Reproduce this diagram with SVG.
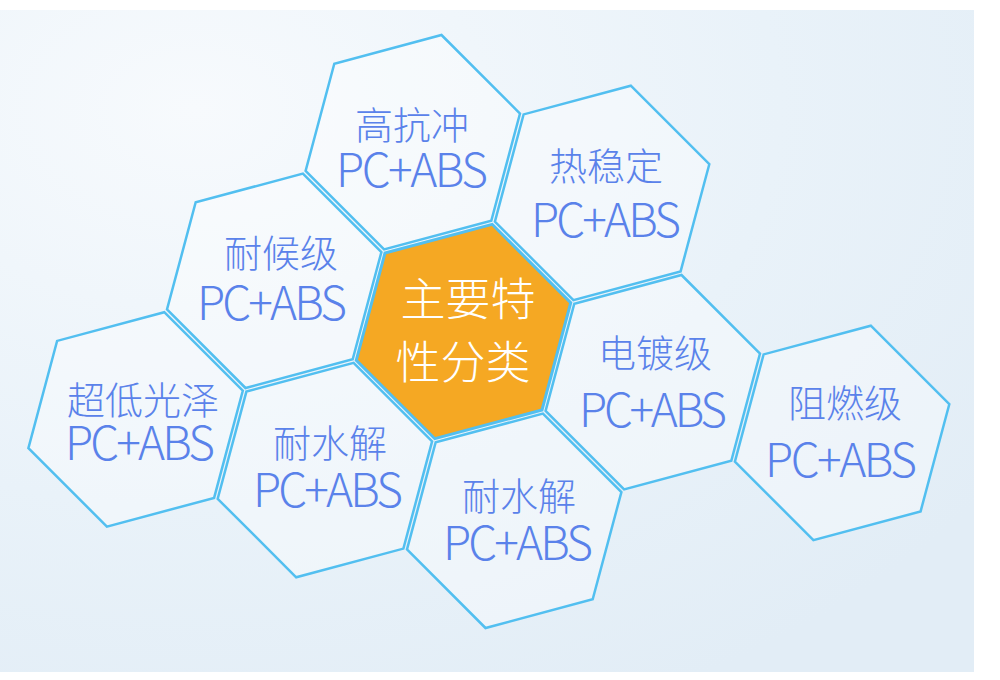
<svg xmlns="http://www.w3.org/2000/svg" xmlns:xlink="http://www.w3.org/1999/xlink" width="1000" height="680" viewBox="0 0 1000 680">
<style>
.hex{fill:#ffffff;fill-opacity:0.35;stroke:#52bff0;stroke-width:2.5;stroke-linejoin:miter}
.core{fill:#f5a823;stroke:#52bff0;stroke-width:3}
.t{font-family:"Noto Sans CJK SC","Noto Sans",sans-serif;font-weight:300;font-size:38px;fill:#5a82ea;text-anchor:middle}
.p{font-family:"Noto Sans CJK SC","Noto Sans",sans-serif;font-weight:300;font-size:46px;fill:#5a82ea;text-anchor:middle}
.c{font-family:"Noto Sans CJK SC",sans-serif;font-weight:300;font-size:45px;fill:#ffffff;text-anchor:middle}
</style>
<defs>
<polygon id="hx" points="107.2,-28.7 78.5,78.5 -28.7,107.2 -107.2,28.7 -78.5,-78.5 28.7,-107.2"/>
<radialGradient id="bg" cx="0.2" cy="0.15" r="1">
<stop offset="0" stop-color="#f7fafd"/>
<stop offset="0.6" stop-color="#e9f2f9"/>
<stop offset="1" stop-color="#e2edf6"/>
</radialGradient>
</defs>
<rect width="1000" height="680" fill="#ffffff"/>
<rect x="0" y="10" width="974" height="662" fill="url(#bg)"/>
<g id="connectors"/>
<g id="n-impact" transform="translate(412.8,142.2)"><use xlink:href="#hx" class="hex"/></g>
<g id="n-heat" transform="translate(602.1,192.9)"><use xlink:href="#hx" class="hex"/></g>
<g id="n-weather" transform="translate(274.2,280.8)"><use xlink:href="#hx" class="hex"/></g>
<g id="n-plating" transform="translate(652.8,382.2)"><use xlink:href="#hx" class="hex"/></g>
<g id="n-hydro1" transform="translate(324.9,470.1)"><use xlink:href="#hx" class="hex"/></g>
<g id="n-hydro2" transform="translate(514.2,520.8)"><use xlink:href="#hx" class="hex"/></g>
<g id="n-lowgloss" transform="translate(135.6,419.4)"><use xlink:href="#hx" class="hex"/></g>
<g id="n-flame" transform="translate(842.1,432.9)"><use xlink:href="#hx" class="hex"/></g>
<g id="n-core" transform="translate(463.5,331.5)"><use xlink:href="#hx" class="core"/></g>
<g id="labels">
<text class="t" x="412" y="139">高抗冲</text><text class="p" x="412" y="187" textLength="152" lengthAdjust="spacing">PC+ABS</text>
<text class="t" x="606" y="180">热稳定</text><text class="p" x="606" y="237" textLength="150" lengthAdjust="spacing">PC+ABS</text>
<text class="t" x="281" y="267">耐候级</text><text class="p" x="272" y="320" textLength="150" lengthAdjust="spacing">PC+ABS</text>
<text class="t" x="655" y="367">电镀级</text><text class="p" x="653" y="427" textLength="148" lengthAdjust="spacing">PC+ABS</text>
<text class="t" x="143" y="414">超低光泽</text><text class="p" x="140" y="460" textLength="150" lengthAdjust="spacing">PC+ABS</text>
<text class="t" x="330" y="457">耐水解</text><text class="p" x="328" y="507" textLength="150" lengthAdjust="spacing">PC+ABS</text>
<text class="t" x="845" y="417">阻燃级</text><text class="p" x="841" y="477" textLength="152" lengthAdjust="spacing">PC+ABS</text>
<text class="t" x="519" y="510">耐水解</text><text class="p" x="518" y="560" textLength="150" lengthAdjust="spacing">PC+ABS</text>
<text class="c" x="468" y="316">主要特</text>
<text class="c" x="463" y="379">性分类</text>
</g>
</svg>
